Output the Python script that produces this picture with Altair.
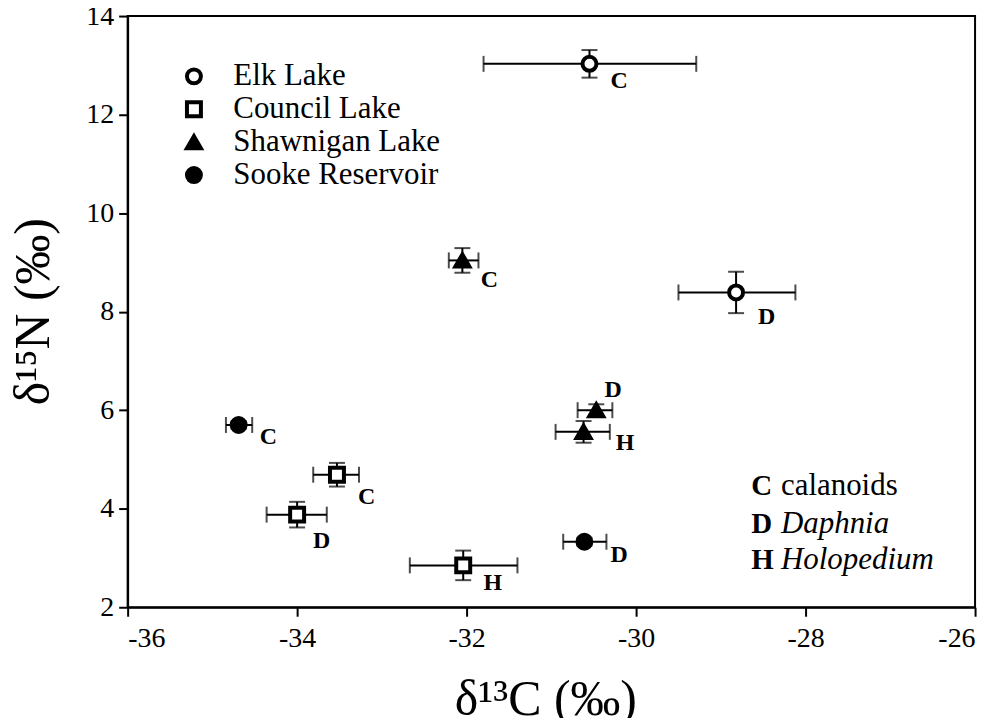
import altair as alt
import pandas as pd

# ---- data ----
lake = ["Elk Lake", "Elk Lake", "Shawnigan Lake", "Shawnigan Lake", "Shawnigan Lake",
        "Sooke Reservoir", "Sooke Reservoir", "Council Lake", "Council Lake", "Council Lake"]
taxon = ["C", "D", "C", "D", "H", "C", "D", "C", "D", "H"]
d13c = [-30.55, -28.82, -32.05, -30.47, -30.62, -34.69, -30.61, -33.53, -34.00, -32.04]
d13c_lo = [-31.80, -29.50, -32.21, -30.69, -30.95, -34.84, -30.86, -33.81, -34.36, -32.67]
d13c_hi = [-29.29, -28.12, -31.86, -30.28, -30.31, -34.53, -30.35, -33.27, -33.65, -31.40]
d15n = [13.03, 8.39, 9.04, 6.00, 5.56, 5.70, 3.33, 4.69, 3.88, 2.85]
d15n_err = [0.28, 0.42, 0.25, 0.12, 0.22, 0.08, 0.08, 0.24, 0.26, 0.30]
# positions of the taxon letters next to each point (data units)
label_x = [-30.20, -28.46, -31.73, -30.27, -30.13, -34.34, -30.20, -33.18, -33.71, -31.69]
label_y = [12.68, 7.89, 8.64, 6.41, 5.34, 5.46, 3.07, 4.24, 3.35, 2.50]

lake_order = ["Elk Lake", "Council Lake", "Shawnigan Lake", "Sooke Reservoir"]
lake_shapes = ["circle", "square", "triangle-up", "circle"]
lake_fills = ["white", "white", "black", "black"]

key_letter = ["C", "D", "H"]
key_word = ["calanoids", "Daphnia", "Holopedium"]
key_italic = [False, True, True]
key_x_letter = -28.64
key_x_word = -28.29
key_y = [4.28, 3.51, 2.77]

x_ticks = [-36, -34, -32, -30, -28, -26]
y_ticks = [2, 4, 6, 8, 10, 12, 14]

df = pd.DataFrame({
    "lake": lake, "taxon": taxon, "d13c": d13c, "lo": d13c_lo, "hi": d13c_hi,
    "d15n": d15n,
    "ylo": [v - e for v, e in zip(d15n, d15n_err)],
    "yhi": [v + e for v, e in zip(d15n, d15n_err)],
    "lx": label_x, "ly": label_y,
})
key_df = pd.DataFrame({"letter": key_letter, "word": key_word,
                       "italic": key_italic, "y": key_y,
                       "xl": [key_x_letter] * 3, "xw": [key_x_word] * 3})

FONT = "Liberation Serif, Times New Roman, serif"
xs = alt.Scale(domain=[-36, -26], nice=False, zero=False)
ys = alt.Scale(domain=[2, 14], nice=False, zero=False)
xaxis = alt.Axis(values=x_ticks, title="δ¹³C (‰)", titleX=419, titleY=108,
                 titleBaseline="alphabetic", titleAlign="center",
                 labelExpr="'' + datum.value", labelFont=FONT, titleFont=FONT)
yaxis = alt.Axis(values=y_ticks, title="δ¹⁵N (‰)", titleX=-79, titleY=296,
                 titleBaseline="alphabetic", titleAlign="center", titleAngle=270,
                 labelExpr="'' + datum.value", labelFont=FONT, titleFont=FONT)


def X(f):
    return alt.X(f, type="quantitative", scale=xs, axis=xaxis)


def Y(f):
    return alt.Y(f, type="quantitative", scale=ys, axis=yaxis)


base = alt.Chart(df)

hbar = base.mark_rule(color="black", strokeWidth=2).encode(
    x=X("lo"), x2="hi", y=Y("d15n"))
vbar = base.mark_rule(color="black", strokeWidth=2).encode(
    x=X("d13c"), y=Y("ylo"), y2="yhi")
cap_l = base.mark_tick(color="black", thickness=2, size=16, orient="vertical").encode(
    x=X("lo"), y=Y("d15n"))
cap_r = base.mark_tick(color="black", thickness=2, size=16, orient="vertical").encode(
    x=X("hi"), y=Y("d15n"))
cap_b = base.mark_tick(color="black", thickness=2, size=16, orient="horizontal").encode(
    x=X("d13c"), y=Y("ylo"))
cap_t = base.mark_tick(color="black", thickness=2, size=16, orient="horizontal").encode(
    x=X("d13c"), y=Y("yhi"))

legend = alt.Legend(title=None, orient="none", legendX=51, legendY=45,
                    labelFont=FONT, labelFontSize=31, labelColor="black",
                    labelOffset=24, rowPadding=1, padding=0, labelLimit=500,
                    symbolStrokeColor="black", symbolStrokeWidth=4,
                    symbolSize=196, symbolOpacity=1)

points = base.mark_point(stroke="black", strokeWidth=4, size=196, opacity=1,
                         fillOpacity=1, filled=True).encode(
    x=X("d13c"), y=Y("d15n"),
    shape=alt.Shape("lake:N", scale=alt.Scale(domain=lake_order, range=lake_shapes),
                    legend=legend),
    fill=alt.Fill("lake:N", scale=alt.Scale(domain=lake_order, range=lake_fills),
                  legend=legend),
    stroke=alt.Stroke("lake:N", scale=alt.Scale(domain=lake_order,
                                                range=["black"] * 4),
                      legend=legend),
)

labels = base.mark_text(font=FONT, fontSize=24, fontWeight="bold", color="black",
                        align="center", baseline="middle").encode(
    x=X("lx"), y=Y("ly"), text="taxon:N")

kb = alt.Chart(key_df)
key_letters = kb.mark_text(font=FONT, fontSize=29, fontWeight="bold", color="black",
                           align="left", baseline="alphabetic").encode(
    x=X("xl"), y=Y("y"), text="letter:N")
key_plain = kb.transform_filter("!datum.italic").mark_text(
    font=FONT, fontSize=31, color="black", align="left", baseline="alphabetic").encode(
    x=X("xw"), y=Y("y"), text="word:N")
key_ital = kb.transform_filter("datum.italic").mark_text(
    font=FONT, fontSize=31, fontStyle="italic", color="black", align="left",
    baseline="alphabetic").encode(
    x=X("xw"), y=Y("y"), text="word:N")

chart = alt.layer(hbar, vbar, cap_l, cap_r, cap_b, cap_t, points, labels,
                  key_letters, key_plain, key_ital).properties(
    width=850, height=593,
    autosize=alt.AutoSizeParams(type="none"),
    padding={"left": 120, "top": 7, "right": 20, "bottom": 110},
    background="white",
).configure_view(stroke="black", strokeWidth=2).configure_axis(
    grid=False, domainColor="black", domainWidth=2, tickColor="black", tickWidth=2,
    tickSize=9, labelFont=FONT, labelFontSize=28, labelColor="black",
    titleFont=FONT, titleFontSize=50, titleFontWeight="normal", titleColor="black",
    labelPadding=4,
).configure_axisX(labelPadding=8).configure_axisY(labelPadding=5)

chart.save("out.html", embed_options={"renderer": "svg", "actions": False})
